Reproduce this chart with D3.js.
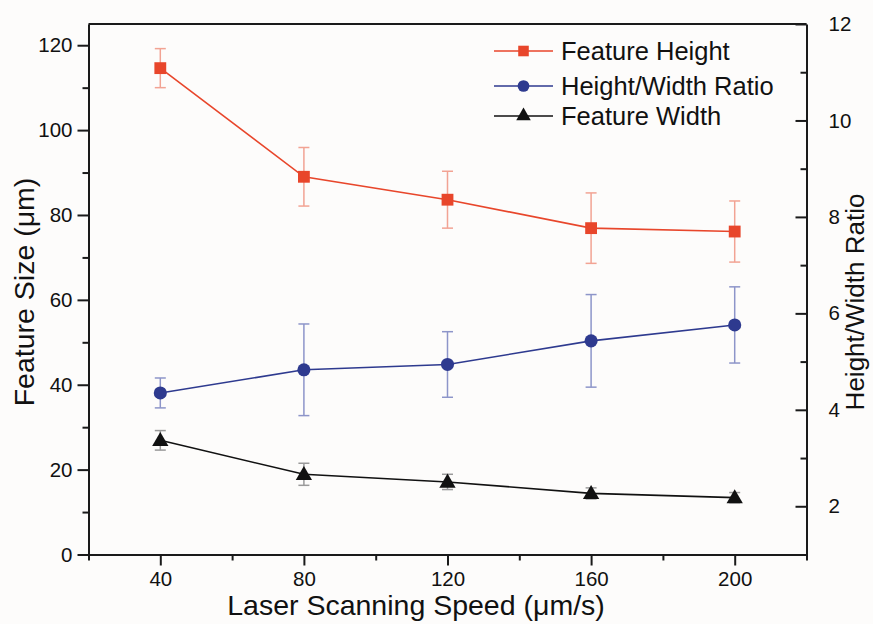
<!DOCTYPE html>
<html>
<head>
<meta charset="utf-8">
<script src="https://cdn.jsdelivr.net/npm/d3@7"></script>
<style>
  html, body { margin: 0; padding: 0; background: #fdfcfb; }
  svg { display: block; font-family: "Liberation Sans", Arial, sans-serif; }
</style>
</head>
<body>
<svg id="chart" width="873" height="624"></svg>
<script>
// Laser scanning speed (µm/s)
const speeds = [40, 80, 120, 160, 200];

// Feature height (µm) with standard deviation
const heightMean = [114.6, 89.0, 83.6, 76.9, 76.1];
const heightErr  = [4.6, 6.9, 6.7, 8.3, 7.2];

// Height/width ratio with standard deviation
const ratioMean = [4.35, 4.83, 4.94, 5.43, 5.76];
const ratioErr  = [0.31, 0.95, 0.68, 0.96, 0.79];

// Feature width (µm) with standard deviation
const widthMean = [26.9, 18.9, 17.1, 14.4, 13.4];
const widthErr  = [2.3, 2.6, 1.8, 1.3, 1.2];

const xTicks = [40, 80, 120, 160, 200];
const yLeftTicks = [0, 20, 40, 60, 80, 100, 120];
const yRightTicks = [2, 4, 6, 8, 10, 12];
const legendLabels = ["Feature Height", "Height/Width Ratio", "Feature Width"];

const svg = d3.select("#chart");
const m = { left: 88.5, right: 806.5, top: 24, bottom: 554.5 };

const x = d3.scaleLinear().domain([20, 220]).range([m.left, m.right]);
const yL = d3.scaleLinear().domain([0, 125]).range([m.bottom, m.top]);
const yR = d3.scaleLinear().domain([1, 12]).range([m.bottom, m.top]);

const axisColor = "#1a1a1a";
const tickFont = 20.5;

// Frame: top edge
svg.append("line")
  .attr("x1", m.left).attr("x2", m.right)
  .attr("y1", m.top).attr("y2", m.top)
  .attr("stroke", axisColor).attr("stroke-width", 2);

function styleAxis(g) {
  g.selectAll("path.domain").attr("stroke", axisColor).attr("stroke-width", 2);
  g.selectAll(".tick line").attr("stroke", axisColor).attr("stroke-width", 2);
  g.selectAll(".tick text").attr("fill", "#111").attr("font-size", tickFont)
    .attr("font-family", "'Liberation Sans', Arial, sans-serif");
}

// Minor ticks (drawn first so major ticks sit on top)
const xMinor = d3.range(20, 221, 40).filter(v => !xTicks.includes(v));
svg.append("g").attr("transform", `translate(0,${m.bottom})`)
  .call(d3.axisBottom(x).tickValues(xMinor).tickSize(6).tickFormat("").tickSizeOuter(0))
  .call(g => g.select("path.domain").remove())
  .call(styleAxis);
const yLMinor = d3.range(10, 125, 20);
svg.append("g").attr("transform", `translate(${m.left},0)`)
  .call(d3.axisLeft(yL).tickValues(yLMinor).tickSize(6).tickFormat("").tickSizeOuter(0))
  .call(g => g.select("path.domain").remove())
  .call(styleAxis);
const yRMinor = [3, 5, 7, 9, 11];
svg.append("g").attr("transform", `translate(${m.right},0)`)
  .call(d3.axisRight(yR).tickValues(yRMinor).tickSize(-6).tickFormat("").tickSizeOuter(0))
  .call(g => g.select("path.domain").remove())
  .call(styleAxis);

// Major axes
svg.append("g").attr("transform", `translate(0,${m.bottom})`)
  .call(d3.axisBottom(x).tickValues(xTicks).tickSize(11).tickSizeOuter(0).tickPadding(6))
  .call(styleAxis);
svg.append("g").attr("transform", `translate(${m.left},0)`)
  .call(d3.axisLeft(yL).tickValues(yLeftTicks).tickSize(11).tickSizeOuter(0).tickPadding(5))
  .call(styleAxis);
svg.append("g").attr("transform", `translate(${m.right},0)`)
  .call(d3.axisRight(yR).tickValues(yRightTicks).tickSize(-11).tickSizeOuter(0).tickPadding(22))
  .call(styleAxis);

// Axis titles
svg.append("text")
  .attr("x", 416).attr("y", 615)
  .attr("text-anchor", "middle").attr("font-size", 28.5).attr("fill", "#111")
  .text("Laser Scanning Speed (μm/s)");
svg.append("text")
  .attr("transform", `translate(34,292) rotate(-90)`)
  .attr("text-anchor", "middle").attr("font-size", 28.5).attr("fill", "#111")
  .text("Feature Size (μm)");
svg.append("text")
  .attr("transform", `translate(864,302) rotate(-90)`)
  .attr("text-anchor", "middle").attr("font-size", 26).attr("fill", "#111")
  .text("Height/Width Ratio");

// Series definitions
const series = [
  { name: legendLabels[0], mean: heightMean, err: heightErr, y: yL,
    color: "#e8462b", errColor: "#f2a393", symbol: d3.symbolSquare, size: 140 },
  { name: legendLabels[1], mean: ratioMean, err: ratioErr, y: yR,
    color: "#2e3a8f", errColor: "#8d95c9", symbol: d3.symbolCircle, size: 135 },
  { name: legendLabels[2], mean: widthMean, err: widthErr, y: yL,
    color: "#111111", errColor: "#9a9a9a", symbol: d3.symbolTriangle, size: 115 }
];

const capHalf = 5.5;

series.forEach(s => {
  const pts = speeds.map((v, i) => ({ x: v, m: s.mean[i], e: s.err[i] }));
  const g = svg.append("g");

  // Error bars
  const eb = g.selectAll("g.err").data(pts).join("g").attr("class", "err")
    .attr("stroke", s.errColor).attr("stroke-width", 1.5);
  eb.append("line")
    .attr("x1", d => x(d.x)).attr("x2", d => x(d.x))
    .attr("y1", d => s.y(d.m + d.e)).attr("y2", d => s.y(d.m - d.e));
  eb.append("line")
    .attr("x1", d => x(d.x) - capHalf).attr("x2", d => x(d.x) + capHalf)
    .attr("y1", d => s.y(d.m + d.e)).attr("y2", d => s.y(d.m + d.e));
  eb.append("line")
    .attr("x1", d => x(d.x) - capHalf).attr("x2", d => x(d.x) + capHalf)
    .attr("y1", d => s.y(d.m - d.e)).attr("y2", d => s.y(d.m - d.e));

  // Connecting line
  g.append("path")
    .datum(pts)
    .attr("fill", "none").attr("stroke", s.color).attr("stroke-width", 1.6)
    .attr("d", d3.line().x(d => x(d.x)).y(d => s.y(d.m)));

  // Markers
  const sym = d3.symbol().type(s.symbol).size(s.size);
  g.selectAll("path.mk").data(pts).join("path").attr("class", "mk")
    .attr("transform", d => `translate(${x(d.x)},${s.y(d.m) + (s.symbol === d3.symbolTriangle ? 1 : 0)})`)
    .attr("d", sym())
    .attr("fill", s.color);
});

// Legend
const legendY = [51, 86, 116];
const lg = svg.append("g");
series.forEach((s, i) => {
  const row = lg.append("g").attr("transform", `translate(0,${legendY[i]})`);
  row.append("line").attr("x1", 494).attr("x2", 553).attr("y1", 0).attr("y2", 0)
    .attr("stroke", s.color).attr("stroke-width", 1.6);
  row.append("path")
    .attr("transform", "translate(523.5,0)")
    .attr("d", d3.symbol().type(s.symbol).size(s.size * 0.8)())
    .attr("fill", s.color);
  row.append("text").attr("x", 561).attr("y", 0).attr("dy", "0.36em")
    .attr("font-size", 25.5).attr("fill", "#111")
    .text(s.name);
});
</script>
</body>
</html>
